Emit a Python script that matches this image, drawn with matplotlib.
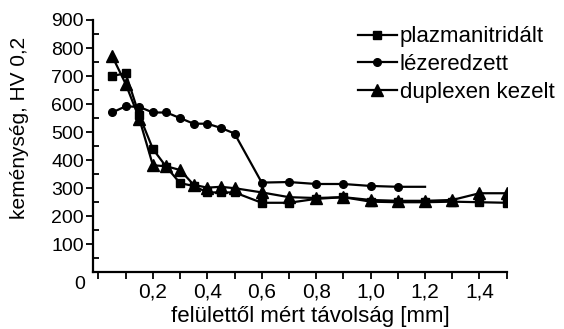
import matplotlib
matplotlib.use("Agg")
import matplotlib.pyplot as plt
from matplotlib.ticker import MultipleLocator

plt.rcParams['font.family'] = ['Liberation Sans', 'DejaVu Sans']

# measured depths [mm]
x_plazma = [0.05, 0.1, 0.15, 0.2, 0.25, 0.3, 0.35, 0.4, 0.45, 0.5, 0.6, 0.7, 0.8, 0.9, 1.0, 1.1, 1.2, 1.3, 1.4, 1.5]
y_plazma = [700, 710, 560, 440, 375, 318, 308, 285, 285, 285, 248, 248, 262, 268, 252, 250, 250, 252, 250, 248]

x_lezer = [0.05, 0.1, 0.15, 0.2, 0.25, 0.3, 0.35, 0.4, 0.45, 0.5, 0.6, 0.7, 0.8, 0.9, 1.0, 1.1, 1.2]
y_lezer = [570, 592, 590, 570, 570, 550, 530, 530, 515, 495, 320, 322, 315, 315, 308, 305, 305]

x_duplex = [0.05, 0.1, 0.15, 0.2, 0.25, 0.3, 0.35, 0.4, 0.45, 0.5, 0.6, 0.7, 0.8, 0.9, 1.0, 1.1, 1.2, 1.3, 1.4, 1.5]
y_duplex = [772, 672, 548, 382, 378, 365, 312, 302, 305, 300, 285, 268, 265, 268, 258, 255, 255, 258, 282, 282]

labels = ['plazmanitridált', 'lézeredzett', 'duplexen kezelt']
x_ticks = [0.2, 0.4, 0.6, 0.8, 1.0, 1.2, 1.4]
x_ticklabels = ['0,2', '0,4', '0,6', '0,8', '1,0', '1,2', '1,4']
y_ticks = [100, 200, 300, 400, 500, 600, 700, 800, 900]

fig = plt.figure(figsize=(5.64, 3.29), dpi=100)
ax = fig.add_axes([0.1649, 0.1723, 0.7335, 0.767])

ax.plot(x_plazma, y_plazma, color='black', lw=1.6, marker='s', ms=5.5, label=labels[0])
ax.plot(x_lezer, y_lezer, color='black', lw=1.6, marker='o', ms=5.5,
        markevery=list(range(len(x_lezer) - 1)), label=labels[1])
ax.plot(x_duplex, y_duplex, color='black', lw=1.6, marker='^', ms=8, label=labels[2])

ax.set_xlim(-0.02, 1.5)
ax.set_ylim(0, 900)
ax.set_xticks(x_ticks)
ax.set_xticklabels(x_ticklabels)
ax.set_yticks(y_ticks)
ax.xaxis.set_minor_locator(MultipleLocator(0.1))
ax.yaxis.set_minor_locator(MultipleLocator(50))

for s in ['top', 'right']:
    ax.spines[s].set_visible(False)
for s in ['left', 'bottom']:
    ax.spines[s].set_linewidth(1.6)

ax.tick_params(axis='y', which='major', direction='out', length=5, width=1.3, labelsize=14, pad=1.5)
ax.tick_params(axis='y', which='minor', direction='in', length=4, width=1.3)
ax.tick_params(axis='x', which='both', direction='out', length=5, width=1.3, labelsize=15, pad=2.5)

ax.annotate('0', xy=(-0.02, 0), xytext=(-9.5, -9), textcoords='offset points',
            ha='center', va='center', fontsize=14)

fig.text(310 / 564, 1 - 322 / 329, 'felülettől mért távolság [mm]', fontsize=16,
         ha='center', va='baseline')
fig.text(20 / 564, 1 - 128 / 329, 'keménység, HV 0,2', fontsize=15,
         rotation=90, ha='center', va='center')

leg = ax.legend(loc='upper left', bbox_to_anchor=(0.64, 0.975), frameon=False, fontsize=16,
                handlelength=1.75, handletextpad=0.15, labelspacing=0.3, borderpad=0,
                borderaxespad=0)

fig.savefig('out.png', dpi=100)
